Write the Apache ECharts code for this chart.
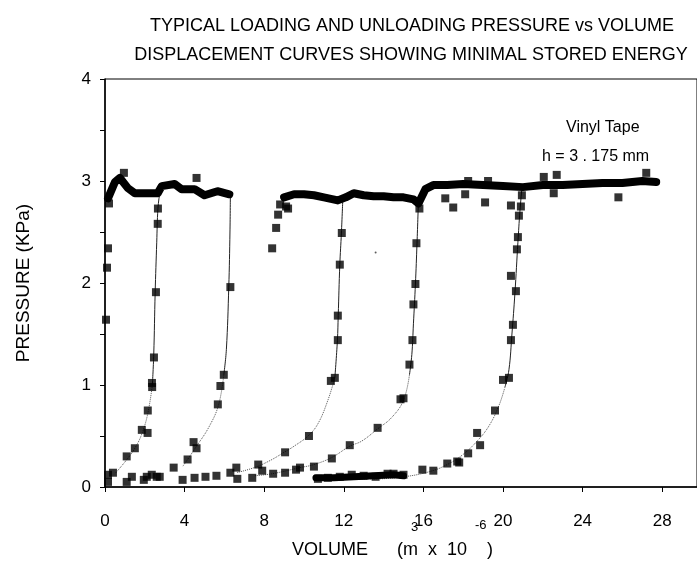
<!DOCTYPE html>
<html>
<head>
<meta charset="utf-8">
<script src="https://cdn.jsdelivr.net/npm/echarts@6/dist/echarts.min.js"></script>
<style>
  html, body { margin: 0; padding: 0; background: #fff; }
  #chart { width: 697px; height: 587px; }
</style>
</head>
<body>
<div id="chart"></div>
<script>
// thick bands where the loading points overlap each other
const loadBand1 = [[0.15, 2.83], [0.5, 2.99], [0.75, 3.03], [1.15, 2.93], [1.5, 2.88], [2.0, 2.88], [2.65, 2.88], [2.85, 2.95], [3.5, 2.97], [3.85, 2.92], [4.5, 2.92], [5.0, 2.86], [5.65, 2.9], [6.25, 2.87]]
const loadBand2 = [[9.0, 2.84], [9.5, 2.87], [10.0, 2.87], [10.5, 2.86], [11.0, 2.84], [11.7, 2.81], [12.1, 2.84], [12.5, 2.88], [13.0, 2.86], [13.5, 2.85], [14.0, 2.85], [14.5, 2.84], [15.0, 2.84], [15.5, 2.82], [15.75, 2.78]]
const loadBand3 = [[15.8, 2.8], [16.1, 2.92], [16.5, 2.96], [17.2, 2.96], [18.0, 2.97], [19.0, 2.96], [20.0, 2.95], [21.0, 2.94], [22.0, 2.96], [23.0, 2.96], [24.0, 2.97], [25.0, 2.98], [26.0, 2.98], [27.0, 3.0], [27.7, 2.99]]
const baseBand = [[10.6, 0.09], [11.5, 0.09], [12.5, 0.1], [13.5, 0.11], [14.5, 0.12], [15.0, 0.11]]

// single measured points
const points = [
  // loading rise at origin + plateau outliers
  [0.05, 1.64], [0.1, 2.15], [0.15, 2.34], [0.2, 2.78], [0.95, 3.08], [4.6, 3.03],
  // unloading near 2.5
  [2.66, 2.73], [2.65, 2.58], [2.56, 1.91], [2.46, 1.27], [2.36, 1.02], [2.37, 0.98], [2.15, 0.75], [1.85, 0.56], [2.14, 0.53], [1.5, 0.38], [1.09, 0.3],
  // unloading near 6
  [6.3, 1.96], [5.97, 1.1], [5.8, 0.99], [5.67, 0.81], [4.45, 0.44], [4.6, 0.38], [4.15, 0.27],
  // bottom row 0..11
  [0.15, 0.12], [0.4, 0.14], [0.15, 0.05], [1.09, 0.05], [1.35, 0.1], [1.95, 0.07], [2.1, 0.1], [2.35, 0.12], [2.6, 0.1], [2.75, 0.1], [3.45, 0.19], [3.9, 0.07], [4.5, 0.09], [5.05, 0.1], [5.6, 0.11], [6.3, 0.14], [6.6, 0.19], [6.65, 0.08], [7.4, 0.09], [7.7, 0.22], [7.9, 0.16], [8.45, 0.13], [9.05, 0.14], [9.6, 0.17], [9.8, 0.19], [10.5, 0.2], [11.4, 0.28],
  // second loading rise
  [8.4, 2.34], [8.6, 2.54], [8.7, 2.67], [8.8, 2.77], [9.1, 2.75], [9.2, 2.73],
  // unloading near 12
  [11.9, 2.49], [11.8, 2.18], [11.7, 1.68], [11.7, 1.44], [11.55, 1.07], [11.35, 1.04], [10.25, 0.5], [9.05, 0.34],
  // unloading near 15.7
  [15.8, 2.73], [15.65, 2.39], [15.6, 1.99], [15.5, 1.79], [15.45, 1.44], [15.3, 1.2], [15.0, 0.87], [14.85, 0.86], [13.7, 0.58], [12.3, 0.41],
  // third plateau outliers
  [17.1, 2.83], [17.5, 2.74], [18.1, 2.87], [19.1, 2.79], [18.25, 3.0], [19.25, 3.0], [20.95, 2.86], [22.55, 2.88], [25.8, 2.84], [22.05, 3.04], [22.7, 3.06], [27.2, 3.08],
  // unloading near 20.7
  [20.9, 2.75], [20.4, 2.76], [20.8, 2.66], [20.75, 2.45], [20.7, 2.33], [20.4, 2.07], [20.65, 1.92], [20.5, 1.59], [20.4, 1.44], [20.3, 1.07], [20.0, 1.05], [19.6, 0.75], [18.85, 0.41], [18.7, 0.53], [18.25, 0.33], [17.8, 0.24], [17.7, 0.25], [17.2, 0.23], [16.5, 0.16], [15.95, 0.17],
  // bottom cluster 10.6..15
  [10.7, 0.08], [11.2, 0.09], [11.8, 0.1], [12.4, 0.12], [13.0, 0.11], [13.6, 0.1], [14.2, 0.13], [14.5, 0.13], [15.0, 0.12]
]

// fitted unloading curves: steep solid part + dotted tail
const unloadA = [[2.75, 2.88], [2.66, 2.73], [2.6, 2.4], [2.52, 1.9], [2.45, 1.3], [2.38, 1.0]]
const unloadATail = [[2.38, 1.0], [2.15, 0.72], [1.85, 0.52], [1.5, 0.38], [1.1, 0.27], [0.5, 0.13]]
const unloadB = [[6.3, 2.87], [6.28, 2.5], [6.22, 1.96], [6.1, 1.35], [5.97, 1.1]]
const unloadBTail = [[5.97, 1.1], [5.7, 0.8], [5.2, 0.58], [4.6, 0.4], [4.15, 0.27], [3.9, 0.2]]
const unloadC = [[11.95, 2.82], [11.88, 2.49], [11.8, 2.18], [11.72, 1.68], [11.68, 1.44], [11.55, 1.07]]
const unloadCTail = [[11.55, 1.07], [11.2, 0.85], [10.7, 0.62], [10.2, 0.5], [9.5, 0.4], [9.0, 0.34], [8.3, 0.26], [7.5, 0.19], [6.6, 0.14]]
const unloadD = [[15.75, 2.8], [15.68, 2.39], [15.6, 1.99], [15.5, 1.6], [15.42, 1.3], [15.3, 1.1]]
const unloadDTail = [[15.3, 1.1], [15.0, 0.85], [14.4, 0.68], [13.7, 0.57], [12.9, 0.45], [12.3, 0.4], [11.4, 0.29], [10.5, 0.22], [9.8, 0.19], [8.4, 0.13], [7.5, 0.11]]
const unloadE = [[20.95, 2.93], [20.85, 2.7], [20.75, 2.4], [20.6, 1.9], [20.45, 1.5], [20.3, 1.15], [20.1, 0.98]]
const unloadETail = [[20.1, 0.98], [19.8, 0.8], [19.3, 0.6], [18.7, 0.45], [18.0, 0.32], [17.2, 0.22], [16.3, 0.15], [15.0, 0.1], [13.5, 0.08], [12.0, 0.08]]

const xTicks = [0, 4, 8, 12, 16, 20, 24, 28]
const yTicks = [0, 1, 2, 3, 4]

const chart = echarts.init(document.getElementById('chart'))
const font = 'Liberation Sans, Arial, sans-serif'

function curve(data, dotted) {
  return {
    type: 'line',
    data: data,
    smooth: 0.4,
    symbol: 'none',
    silent: true,
    z: 2,
    lineStyle: { color: dotted ? '#555' : '#222', width: 1, type: dotted ? 'dotted' : 'solid' }
  }
}

function band(data, width) {
  return {
    type: 'line',
    data: data,
    symbol: 'none',
    silent: true,
    z: 3,
    lineStyle: { color: '#000', width: width, join: 'round', cap: 'round' }
  }
}

chart.setOption({
  animation: false,
  backgroundColor: '#fff',
  title: [
    {
      text: 'TYPICAL LOADING AND UNLOADING PRESSURE vs VOLUME',
      left: 407, top: 12, textAlign: 'center',
      textStyle: { fontFamily: font, fontSize: 18, fontWeight: 'normal', color: '#000' }
    },
    {
      text: 'DISPLACEMENT CURVES SHOWING MINIMAL STORED ENERGY',
      left: 406, top: 41, textAlign: 'center',
      textStyle: { fontFamily: font, fontSize: 18, fontWeight: 'normal', color: '#000' }
    }
  ],
  grid: { left: 105, top: 79, right: 0, bottom: 100, show: true, borderColor: '#000', borderWidth: 1 },
  xAxis: {
    type: 'value', min: 0, max: 29.75, interval: 4,
    axisLine: { lineStyle: { color: '#000', width: 1.5 } },
    axisTick: { length: 5, lineStyle: { color: '#000' } },
    axisLabel: {
      margin: 26, fontFamily: font, fontSize: 17, color: '#000', showMaxLabel: false,
      formatter: v => xTicks.indexOf(v) >= 0 ? String(v) : ''
    },
    splitLine: { show: false }
  },
  yAxis: {
    type: 'value', min: 0, max: 4, interval: 1,
    axisLine: { show: true, lineStyle: { color: '#000', width: 1.5 } },
    axisTick: { show: true, length: 5, lineStyle: { color: '#000' } },
    minorTick: { show: true, splitNumber: 2, length: 5, lineStyle: { color: '#000' } },
    axisLabel: {
      margin: 14, fontFamily: font, fontSize: 17, color: '#000',
      formatter: v => yTicks.indexOf(v) >= 0 ? String(v) : ''
    },
    name: 'PRESSURE (KPa)', nameLocation: 'middle', nameGap: 72, nameRotate: 90,
    nameTextStyle: { fontFamily: font, fontSize: 19, color: '#000' },
    splitLine: { show: false }
  },
  graphic: [
    { type: 'text', left: 566, top: 120, style: { text: 'Vinyl Tape', font: '16px ' + font, fill: '#000' } },
    { type: 'text', left: 542, top: 149, style: { text: 'h = 3 . 175 mm', font: '16px ' + font, fill: '#000' } },
    { type: 'text', left: 292, top: 541, style: { text: 'VOLUME', font: '18px ' + font, fill: '#000' } },
    { type: 'text', left: 397, top: 541, style: { text: '(m  x  10    )', font: '18px ' + font, fill: '#000' } },
    { type: 'text', left: 411, top: 521, style: { text: '3', font: '13px ' + font, fill: '#000' } },
    { type: 'text', left: 475, top: 519, style: { text: '-6', font: '13px ' + font, fill: '#000' } }
  ],
  series: [
    curve(unloadA, false), curve(unloadATail, true),
    curve(unloadB, false), curve(unloadBTail, true),
    curve(unloadC, false), curve(unloadCTail, true),
    curve(unloadD, false), curve(unloadDTail, true),
    curve(unloadE, false), curve(unloadETail, true),
    band(loadBand1, 8), band(loadBand2, 8), band(loadBand3, 8), band(baseBand, 7),
    {
      type: 'scatter',
      data: points,
      symbol: 'rect',
      symbolSize: 8,
      z: 4,
      itemStyle: { color: '#000' }
    },
    {
      type: 'scatter',
      data: [[13.6, 2.3]],
      symbolSize: 2,
      itemStyle: { color: '#333' }
    }
  ]
})
</script>
</body>
</html>
